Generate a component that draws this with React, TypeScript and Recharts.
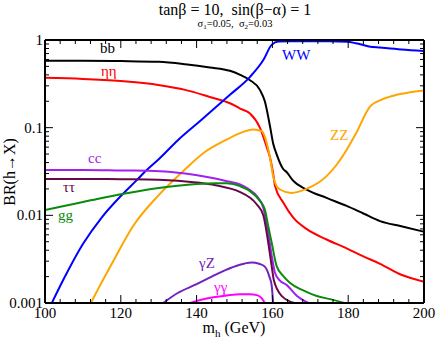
import React from "react";
import { LineChart, Line, XAxis, YAxis } from "recharts";

// BR(h -> X), [m_h (GeV), BR]
const bb: [number, number][] = [
  [100, 0.58], [110, 0.58], [120, 0.575], [130, 0.564], [137, 0.53], [143.5, 0.487],
  [148.8, 0.445], [151.5, 0.4], [154, 0.35], [156.7, 0.27], [158, 0.2], [159.4, 0.102],
  [160.2, 0.066], [161.1, 0.05], [162.8, 0.034], [163.8, 0.031], [165.4, 0.025],
  [169, 0.0197], [174.3, 0.0158], [179.6, 0.0128], [184, 0.0105], [188.4, 0.0086],
  [194, 0.0075], [200, 0.0065],
];
const etaeta: [number, number][] = [
  [100, 0.37], [110, 0.36], [120, 0.34], [130.3, 0.305], [137, 0.27], [143.5, 0.224],
  [148.8, 0.19], [151.5, 0.165], [154.1, 0.145], [156.7, 0.1], [158.5, 0.06],
  [159.4, 0.045], [160.2, 0.03], [160.7, 0.0216], [162.9, 0.0139], [165.5, 0.0094],
  [169, 0.007], [174.3, 0.0053], [179.6, 0.0042], [184, 0.0034], [188.4, 0.0028],
  [194, 0.0021], [200, 0.00175],
];
const ww: [number, number][] = [
  [101.8, 0.001], [105, 0.0019], [110, 0.0047], [115, 0.0095], [120, 0.0166],
  [124.4, 0.0257], [126.4, 0.0316], [130, 0.0437], [135.2, 0.073], [141, 0.12],
  [148.8, 0.237], [154.1, 0.38], [157.6, 0.59], [159.8, 0.88], [161.6, 0.96],
  [165, 0.97], [170, 0.97], [175, 0.97], [179.6, 0.956], [182, 0.92], [185.8, 0.84],
  [188.4, 0.82], [194, 0.78], [200, 0.75],
];
const zz: [number, number][] = [
  [112.1, 0.001], [114, 0.00144], [118, 0.003], [123.3, 0.0076], [130, 0.017],
  [136.5, 0.032], [142, 0.052], [147.9, 0.073], [151, 0.085], [155, 0.095],
  [157.2, 0.091], [158.5, 0.067], [159.4, 0.045], [160.2, 0.028], [161, 0.022],
  [162, 0.0197], [165, 0.018], [169, 0.02], [174.3, 0.028], [177, 0.038],
  [179.6, 0.056], [182, 0.085], [185.8, 0.175], [189, 0.21], [192.8, 0.237],
  [196, 0.252], [200, 0.265],
];
const cc: [number, number][] = [
  [100, 0.033], [110, 0.033], [120, 0.0325], [130.3, 0.0319], [137, 0.03],
  [143.5, 0.027], [148, 0.0245], [151.5, 0.0225], [154, 0.0195], [155.9, 0.0166],
  [157.6, 0.0122], [158.9, 0.0063], [159.8, 0.0035], [160.7, 0.0022], [162, 0.0018],
  [163.8, 0.0016], [166.5, 0.0012], [169.5, 0.001],
];
const tautau: [number, number][] = [
  [100, 0.026], [110, 0.026], [120, 0.0258], [130, 0.0255], [140, 0.0237],
  [145, 0.022], [151.5, 0.0184], [154, 0.016], [155.9, 0.0133], [157.6, 0.01],
  [158.9, 0.0049], [159.8, 0.00265], [160.4, 0.0018], [162.5, 0.0012], [165.8, 0.001],
];
const gg: [number, number][] = [
  [100, 0.0115], [105, 0.0128], [110, 0.0142], [115, 0.0158], [120, 0.0174],
  [125, 0.019], [130, 0.0205], [135, 0.0218], [140, 0.0228], [145, 0.0233],
  [148, 0.0232], [151.5, 0.0215], [154, 0.019], [156.7, 0.0146], [158, 0.0117],
  [158.9, 0.0075], [159.8, 0.0049], [161.1, 0.00265], [163, 0.002], [164.6, 0.0017],
  [168, 0.0014], [171.7, 0.0012], [175.5, 0.0011], [179, 0.001],
];
const gZ: [number, number][] = [
  [131.2, 0.001], [135, 0.0013], [140, 0.00164], [144, 0.002], [147.9, 0.0024],
  [151, 0.0027], [154.5, 0.0029], [156.5, 0.0028], [158, 0.0026], [159.2, 0.002],
  [159.8, 0.0016], [160.2, 0.001],
];
const gamgam: [number, number][] = [
  [138.3, 0.001], [141, 0.00108], [144.4, 0.00116], [148, 0.00122], [151.5, 0.00126],
  [154, 0.00126], [155.9, 0.00123], [157.2, 0.00113], [158, 0.001],
];

const xMajor = [100, 120, 140, 160, 180, 200];
const xMinor = [
  104, 108, 112, 116, 124, 128, 132, 136, 144, 148, 152, 156,
  164, 168, 172, 176, 184, 188, 192, 196,
];
const yMajor = [0.001, 0.01, 0.1, 1];
const yMinor = [
  0.002, 0.003, 0.004, 0.005, 0.006, 0.007, 0.008, 0.009,
  0.02, 0.03, 0.04, 0.05, 0.06, 0.07, 0.08, 0.09,
  0.2, 0.3, 0.4, 0.5, 0.6, 0.7, 0.8, 0.9,
];

const series = [
  { name: "bb", pts: bb, color: "#000000" },
  { name: "etaeta", pts: etaeta, color: "#ff0000" },
  { name: "ww", pts: ww, color: "#0000ff" },
  { name: "zz", pts: zz, color: "#ffa500" },
  { name: "cc", pts: cc, color: "#a020f0" },
  { name: "tautau", pts: tautau, color: "#67074a" },
  { name: "gg", pts: gg, color: "#0b8a0b" },
  { name: "gZ", pts: gZ, color: "#7221bc" },
  { name: "gamgam", pts: gamgam, color: "#ff00ff" },
];

const curveLabels = [
  { text: "bb", x: 100, y: 53, color: "#000000" },
  { text: "ηη", x: 101, y: 76, color: "#ff0000" },
  { text: "WW", x: 282, y: 60, color: "#0000ff" },
  { text: "ZZ", x: 330, y: 140, color: "#ffa500" },
  { text: "cc", x: 88, y: 163, color: "#a020f0" },
  { text: "ττ", x: 63, y: 192, color: "#67074a" },
  { text: "gg", x: 58, y: 220, color: "#0b8a0b" },
  { text: "γZ", x: 199, y: 268, color: "#7221bc" },
  { text: "γγ", x: 214, y: 292, color: "#ff00ff" },
];

const serif = "'Liberation Serif', 'Times New Roman', Times, serif";
const xTicks = [...xMajor, ...xMinor].sort((a, b) => a - b);
const yTicks = [...yMajor, ...yMinor].sort((a, b) => a - b);

function len(major: boolean) {
  return major ? 8 : 4;
}

function BottomTick(props: any) {
  const { x, y, payload } = props;
  const major = xMajor.includes(payload.value);
  return (
    <g>
      <line x1={x} y1={y} x2={x} y2={y - len(major)} stroke="#000" strokeWidth={1} />
      {major && (
        <text x={x} y={y + 15} textAnchor="middle" fontSize={15} fontFamily={serif} fill="#000">
          {payload.value}
        </text>
      )}
    </g>
  );
}

function TopTick(props: any) {
  const { x, y, payload } = props;
  const major = xMajor.includes(payload.value);
  return <line x1={x} y1={y} x2={x} y2={y + len(major)} stroke="#000" strokeWidth={1} />;
}

function LeftTick(props: any) {
  const { x, y, payload } = props;
  const major = yMajor.includes(payload.value);
  return (
    <g>
      <line x1={x} y1={y} x2={x + len(major)} y2={y} stroke="#000" strokeWidth={1} />
      {major && (
        <text x={x - 2} y={y + 5} textAnchor="end" fontSize={15} fontFamily={serif} fill="#000">
          {String(payload.value)}
        </text>
      )}
    </g>
  );
}

function RightTick(props: any) {
  const { x, y, payload } = props;
  const major = yMajor.includes(payload.value);
  return <line x1={x} y1={y} x2={x - len(major)} y2={y} stroke="#000" strokeWidth={1} />;
}

const frame = { stroke: "#000", strokeWidth: 2 };

export default function App() {
  return (
    <div style={{ position: "absolute", left: 0, top: 0, width: 436, height: 340, background: "#fff" }}>
      <LineChart width={436} height={340} margin={{ top: 39, right: 11, bottom: 0, left: 0 }}>
        <XAxis
          xAxisId="b"
          dataKey="m"
          type="number"
          domain={[100, 200]}
          allowDataOverflow
          ticks={xTicks}
          interval={0}
          height={37}
          tickSize={0}
          tickMargin={0}
          tickLine={false}
          axisLine={frame}
          tick={<BottomTick />}
        />
        <XAxis
          xAxisId="t"
          orientation="top"
          dataKey="m"
          type="number"
          domain={[100, 200]}
          allowDataOverflow
          ticks={xTicks}
          interval={0}
          height={1}
          tickSize={0}
          tickMargin={0}
          tickLine={false}
          axisLine={frame}
          tick={<TopTick />}
        />
        <YAxis
          yAxisId="l"
          type="number"
          scale="log"
          domain={[0.001, 1]}
          allowDataOverflow
          ticks={yTicks}
          interval={0}
          width={45}
          tickSize={0}
          tickMargin={0}
          tickLine={false}
          axisLine={frame}
          tick={<LeftTick />}
        />
        <YAxis
          yAxisId="r"
          orientation="right"
          type="number"
          scale="log"
          domain={[0.001, 1]}
          allowDataOverflow
          ticks={yTicks}
          interval={0}
          width={1}
          tickSize={0}
          tickMargin={0}
          tickLine={false}
          axisLine={frame}
          tick={<RightTick />}
        />
        {series.map((s) => (
          <Line
            key={s.name}
            xAxisId="b"
            yAxisId="l"
            data={s.pts.map(([m, v]) => ({ m, v }))}
            dataKey="v"
            type="monotone"
            stroke={s.color}
            strokeWidth={2}
            dot={false}
            activeDot={false}
            isAnimationActive={false}
          />
        ))}
      </LineChart>
      <svg
        width={436}
        height={340}
        style={{ position: "absolute", left: 0, top: 0, pointerEvents: "none" }}
      >
        <text x={235} y={15} textAnchor="middle" fontSize={16} fontFamily={serif} style={{ whiteSpace: "pre" }}>
          {"tanβ = 10,  sin(β−α) = 1"}
        </text>
        <text x={235} y={27} textAnchor="middle" fontSize={10.5} fontFamily={serif} style={{ whiteSpace: "pre" }}>
          σ<tspan fontSize={7} dy={2}>1</tspan>
          <tspan dy={-2}>{"=0.05,  σ"}</tspan>
          <tspan fontSize={7} dy={2}>2</tspan>
          <tspan dy={-2}>=0.03</tspan>
        </text>
        <text
          x={15}
          y={172}
          transform="rotate(-90 15 172)"
          textAnchor="middle"
          fontSize={16}
          fontFamily={serif}
        >
          BR(h→X)
        </text>
        <text x={234} y={333} textAnchor="middle" fontSize={16} fontFamily={serif} style={{ whiteSpace: "pre" }}>
          m<tspan fontSize={11} dy={4}>h</tspan>
          <tspan dy={-4}>{" (GeV)"}</tspan>
        </text>
        {curveLabels.map((c) => (
          <text key={c.text} x={c.x} y={c.y} fontSize={15} fontFamily={serif} fill={c.color}>
            {c.text}
          </text>
        ))}
      </svg>
    </div>
  );
}
